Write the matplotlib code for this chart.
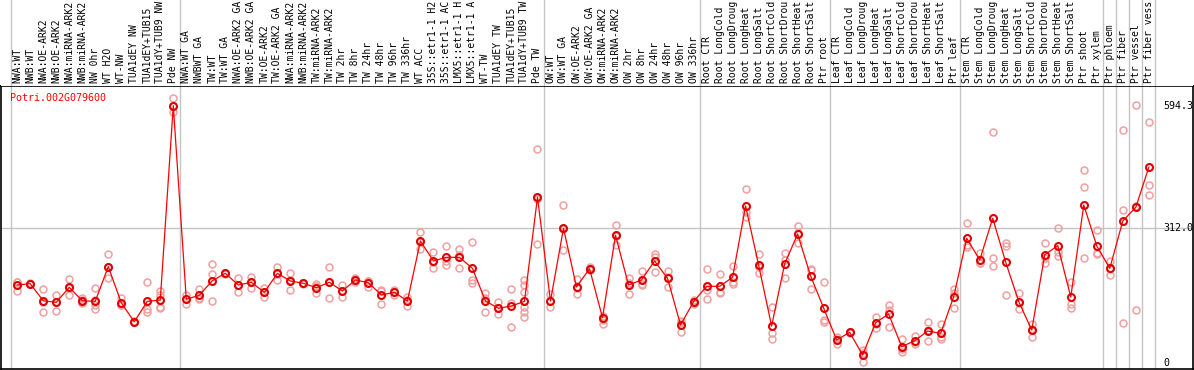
import matplotlib
matplotlib.use("Agg")
import matplotlib.pyplot as plt
import numpy as np

gene = "Potri.002G079600"

samples = [
    "NWA:WT", "NWB:WT", "NWA:OE-ARK2", "NWB:OE-ARK2", "NWA:miRNA-ARK2", "NWB:miRNA-ARK2",
    "NW 0hr", "WT H2O", "WT-NW", "TUA1dEY NW", "TUA1dEY+TUB15", "TUA1dY+TUB9 NW", "Pde NW",
    "NWA:WT GA", "NWBWT GA", "TW:WT", "TW:WT GA", "NWA:OE-ARK2 GA", "NWB:OE-ARK2 GA",
    "TW:OE-ARK2", "TW:OE-ARK2 GA", "NWA:miRNA-ARK2", "NWB:miRNA-ARK2", "TW:miRNA-ARK2",
    "TW:miRNA-ARK2", "TW 2hr", "TW 8hr", "TW 24hr", "TW 48hr", "TW 96hr", "TW 336hr",
    "WT ACC", "35S::etr1-1 H2", "35S::etr1-1 AC", "LMX5::etr1-1 H", "LMX5::etr1-1 A",
    "WT-TW", "TUA1dEY TW", "TUA1dEY+TUB15", "TUA1dY+TUB9 TW", "Pde TW",
    "OW:WT", "OW:WT GA", "OW:OE-ARK2", "OW:OE-ARK2 GA", "OW:miRNA-ARK2", "OW:miRNA-ARK2",
    "OW 2hr", "OW 8hr", "OW 24hr", "OW 48hr", "OW 96hr", "OW 336hr",
    "Root CTR", "Root LongCold", "Root LongDroug", "Root LongHeat", "Root LongSalt",
    "Root ShortCold", "Root ShortDrou", "Root ShortHeat", "Root ShortSalt", "Ptr root",
    "Leaf CTR", "Leaf LongCold", "Leaf LongDroug", "Leaf LongHeat", "Leaf LongSalt",
    "Leaf ShortCold", "Leaf ShortDrou", "Leaf ShortHeat", "Leaf ShortSalt", "Ptr leaf",
    "Stem CTR", "Stem LongCold", "Stem LongDroug", "Stem LongHeat", "Stem LongSalt",
    "Stem ShortCold", "Stem ShortDrou", "Stem ShortHeat", "Stem ShortSalt", "Ptr shoot",
    "Ptr xylem", "Ptr phloem", "Ptr fiber", "Ptr vessel", "Ptr fiber vess",
]

means = [
    180.7, 183.7, 144.3, 140.5, 175.3, 144.3, 142.9, 223.1, 139.7, 95.7, 142.9, 145.9, 594.3,
    147.6, 156.9, 190.5, 207.6, 180.6, 186.9, 163.8, 207.6, 189.9, 184.5, 174.4, 186.9,
    166.8, 192.2, 185.9, 157.6, 163.8, 143.7, 282.1, 236.0, 244.5, 244.5, 219.1,
    143.7, 126.9, 132.2, 143.0, 382.9,
    143.7, 311.4, 176.0, 218.2, 105.2, 295.3, 180.6, 192.2, 236.0, 196.1, 88.3, 142.1,
    177.6, 177.6, 198.4, 362.9, 226.8, 86.0, 229.1, 298.3, 201.4, 127.6,
    53.7, 71.5, 19.1, 93.7, 113.7, 38.3, 52.1, 74.5, 69.2, 153.6,
    288.3, 238.3, 334.5, 233.0, 142.1, 76.8, 250.5, 271.3, 152.9, 365.2, 270.6,
    219.1, 328.3, 359.9, 452.1,
]

replicates = [
    [186.8, 167.5, 188], [183, 185, 183], [171.4, 119.0, 142], [157.6, 121.3, 142],
    [194.5, 157.6, 174], [150, 138.4, 145], [174.4, 146, 134.5, 125.3], [251.4, 196.1, 222],
    [150, 134.5, 135], [95, 96, 97], [186.8, 125.3, 117.6], [166.8, 157.6, 130.6, 128],
    [611.3, 579, 593],
    [157.6, 136.8, 148], [171.4, 148.3, 151], [229, 206, 143.7], [207, 208, 208],
    [197.5, 165.2, 180], [199.8, 174.4, 187], [173, 153, 165], [222.9, 192.2, 207],
    [207.6, 169.1, 193], [184, 185, 185], [182.2, 162.2, 178], [222.1, 150, 188],
    [180.6, 152.2, 167], [196, 188, 192], [190, 176, 191], [166.8, 136.1, 170],
    [168, 158, 165], [152.2, 132.9, 146], [303.6, 263.7, 279], [256, 219.1, 233],
    [269.9, 226.8, 236], [263.7, 219.8, 250], [279.1, 192.2, 186],
    [161.5, 119.0, 150], [140.7, 113.0, 127], [171.4, 84.4, 140],
    [192.2, 180.6, 165.2, 119, 106.1, 130], [493.6, 275.2, 380],
    [159.2, 129.2, 143], [364.5, 260.7, 309], [194.5, 159.2, 174], [222.9, 215, 217],
    [110, 101, 91.3], [319, 272.9, 294], [196.1, 160.6, 185], [212.9, 180.6, 183],
    [252.1, 209.9, 246], [212.9, 176, 199], [97.6, 72.9, 94], [146, 137, 143],
    [217.5, 147.6, 168], [205.3, 165.2, 162], [224.5, 182.9, 188], [401.4, 349.7, 337],
    [252.1, 207.6, 221], [130.6, 56.1, 71], [253.7, 196.1, 238], [317.4, 276.8, 301],
    [217.5, 171.4, 215], [186.9, 96, 100],
    [56, 43.8, 61], [71, 72, 71.5], [30.7, 2.3, 24], [107.5, 82.1, 91], [134.5, 83, 123],
    [56.1, 26.8, 32], [63.7, 43.8, 49], [94.6, 52.1, 77], [90.7, 60, 57], [171.4, 126.9, 162],
    [323, 269, 273], [253.7, 230.7, 231], [532.9, 243.6, 225.1], [276.8, 270, 157.6],
    [161.5, 124.6, 140], [90, 60, 80], [277.5, 232.1, 242], [311.4, 256, 247],
    [188.2, 137, 128.3], [445.9, 406, 242.2], [307.5, 253.7, 251],
    [236, 203.7, 218], [538.2, 352.9, 92.3], [595.2, 122.3, 362], [555.9, 411.3, 387.5],
]

# group boundaries (after these sample indices)
separators = [-0.5, 12.5, 40.5, 52.5, 62.5, 72.5, 83.5, 84.5, 85.5, 86.5, 87.5]
ytick_vals = [594.3, 312.0, 0]
ytick_text = ["594.3", "312.0", "0"]

W, H = 1194, 370
fig = plt.figure(figsize=(W / 100, H / 100), dpi=100)

# pixel layout
top_px, bot_px = 85.5, 369
ax = fig.add_axes([1 / W, (H - bot_px) / H, 1192 / W, (bot_px - top_px) / H])
axh = fig.add_axes([1 / W, (H - top_px) / H, 1192 / W, top_px / H])

x0, dx = 10.7, 13.007
xlim = ((1 - x0) / dx - 0.5, (1193 - x0) / dx - 0.5)
y0, k = 363.3, 0.4335
ylim = ((y0 - bot_px) / k, (y0 - top_px) / k)

x = np.arange(len(samples))

for a in (ax, axh):
    a.set_xlim(*xlim)
    a.set_xticks([])
    a.set_yticks([])
    for s in separators:
        a.axvline(s, color="#c4c4c4", lw=1, zorder=0)

ax.set_ylim(*ylim)
ax.axhline(312.0, color="#c4c4c4", lw=1, zorder=0)
for sp in ax.spines.values():
    sp.set_color("black")
    sp.set_linewidth(1.2)

axh.set_ylim(0, 1)
for sp in axh.spines.values():
    sp.set_visible(False)

# replicate points
for i, reps in enumerate(replicates):
    ax.plot([i] * len(reps), reps, "o", ms=5, mfc="none", mec="#f0a0a0", mew=1.1, zorder=2)

ax.plot(x, means, "-", color="red", lw=0.9, zorder=3)
ax.plot(x, means, "o", ms=5, mfc="none", mec="#e00000", mew=1.5, zorder=4)

mono = "DejaVu Sans Mono"
for i, lab in enumerate(samples):
    axh.text(i, 0.03, lab, rotation=90, ha="center", va="bottom",
             fontsize=7, family=mono, color="black")

ax.text(9 / 1192, 1 - 7 / (bot_px - top_px), gene, transform=ax.transAxes,
        ha="left", va="top", fontsize=7.2, family=mono, color="red")

xr = (1163 - x0) / dx - 0.5
for v, t in zip(ytick_vals, ytick_text):
    ax.text(xr, v, t, ha="left", va="center", fontsize=7.2, family=mono, color="black",
            clip_on=True)

fig.savefig("out.png", dpi=100)
